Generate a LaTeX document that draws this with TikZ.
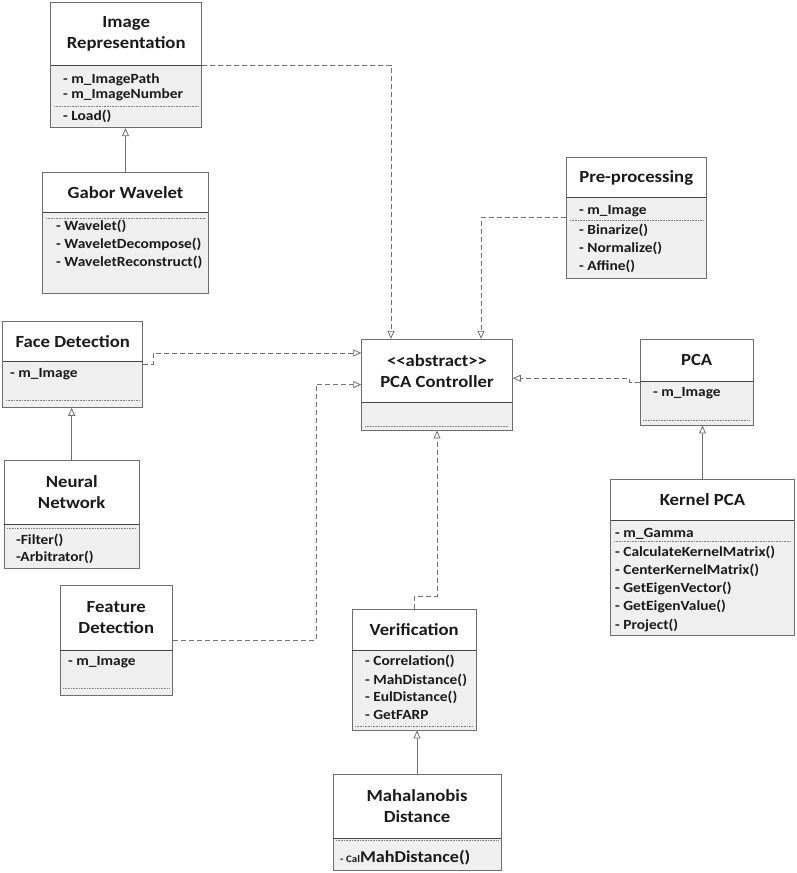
\documentclass[tikz,border=0pt]{standalone}
\usepackage{fontspec}
\setmainfont{Carlito}[FakeStretch=1.1]
\usetikzlibrary{arrows.meta,fit}
\definecolor{boxgray}{HTML}{6D6D6D}
\definecolor{hdrgray}{HTML}{444444}
\definecolor{attrgray}{HTML}{EFEFEF}
\definecolor{linegray}{HTML}{707070}
\definecolor{sepgray}{HTML}{808080}
\definecolor{txt}{HTML}{1A1A1A}
\newcommand\umlbox[6]{%
  \fill[attrgray] (#2,#6) rectangle (#4,#5);
  \node[frame, fit={(#2,#3) (#4,#5)}] (#1) {};
  \draw[hline] (#2,#6) -- (#4,#6);
}
\tikzset{
  frame/.style={draw=boxgray, line width=0.9pt, inner sep=0pt},
  hline/.style={draw=hdrgray, line width=1pt},
  sepline/.style={draw=sepgray, line width=0.6pt, densely dotted},
  ttl/.style={font=\bfseries\fontsize{17}{21}\selectfont, text=txt, align=center, inner sep=0pt},
  attr/.style={font=\bfseries\fontsize{14}{15}\selectfont, text=txt, anchor=base west, inner sep=0pt},
  dep/.style={draw=linegray, line width=0.8pt, dash pattern=on 5pt off 3pt, -{Triangle[length=8pt,width=7pt,fill=white]}},
  inh/.style={draw=linegray, line width=0.8pt, -{Triangle[length=8pt,width=7pt,fill=white]}},
}
\begin{document}
\begin{tikzpicture}[x=1pt,y=-1pt]
\useasboundingbox (0,0) rectangle (796,873);
% Image Representation
\umlbox{ir}{50.7}{2.7}{201.7}{127.7}{65}
\node[ttl] (irT) at (126.2,33.9) {Image\\Representation};
\node[attr] (ir1) at (63,83.4) {- m\_ImagePath};
\node[attr] (ir2) at (63,98.5) {- m\_ImageNumber};
\draw[sepline] (54,106.7) -- (199,106.7);
\node[attr] (ir3) at (63,120.7) {- Load()};
% Gabor Wavelet
\umlbox{gw}{42.7}{172.7}{208.3}{293.3}{212.7}
\node[ttl] (gwT) at (125.5,192.7) {Gabor Wavelet};
\draw[sepline] (46,218.3) -- (205,218.3);
\node[attr] (gw1) at (56,230.7) {- Wavelet()};
\node[attr] (gw2) at (56,248.4) {- WaveletDecompose()};
\node[attr] (gw3) at (56,266.7) {- WaveletReconstruct()};
% Pre-processing
\umlbox{pp}{566.7}{157.3}{706}{278.3}{197.7}
\node[ttl] (ppT) at (636.3,177.5) {Pre-processing};
\node[attr] (pp1) at (579,214.7) {- m\_Image};
\draw[sepline] (570,220) -- (703,220);
\node[attr] (pp2) at (579,234) {- Binarize()};
\node[attr] (pp3) at (579,252.4) {- Normalize()};
\node[attr] (pp4) at (579,270.7) {- Affine()};
% Face Detection
\umlbox{fd}{2.7}{321}{142.7}{407.3}{361.7}
\node[ttl] (fdT) at (72.7,341.3) {Face Detection};
\node[attr] (fd1) at (10,377.4) {- m\_Image};
\draw[sepline] (6,400.7) -- (140,400.7);
% PCA Controller
\umlbox{pc}{361.7}{339.3}{512.3}{430}{402.7}
\node[ttl] (pcT) at (437,371) {{<}{<}abstract{>}{>}\\PCA Controller};
\draw[sepline] (365,426) -- (509,426);
% PCA
\umlbox{pca}{640}{339.3}{753.3}{425}{381}
\node[ttl] (pcaT) at (696.7,360.2) {PCA};
\node[attr] (pca1) at (653,396.4) {- m\_Image};
\draw[sepline] (643,420) -- (750,420);
% Neural Network
\umlbox{nn}{4}{460.7}{139.3}{568.3}{524.3}
\node[ttl] (nnT) at (71.7,492.5) {Neural\\Network};
\draw[sepline] (7,528.7) -- (136,528.7);
\node[attr] (nn1) at (16,544.5) {-Filter()};
\node[attr] (nn2) at (16,561.5) {-Arbitrator()};
% Kernel PCA
\umlbox{kp}{610.7}{479}{794.3}{635}{520}
\node[ttl] (kpT) at (702.5,499.5) {Kernel PCA};
\node[attr] (kp1) at (615,537.4) {- m\_Gamma};
\draw[sepline] (614,541) -- (791,541);
\node[attr] (kp2) at (615,556.4) {- CalculateKernelMatrix()};
\node[attr] (kp3) at (615,574) {- CenterKernelMatrix()};
\node[attr] (kp4) at (615,592.4) {- GetEigenVector()};
\node[attr] (kp5) at (615,610.7) {- GetEigenValue()};
\node[attr] (kp6) at (615,629) {- Project()};
% Feature Detection
\umlbox{fe}{60}{585.7}{172.7}{695}{650}
\node[ttl] (feT) at (116.3,617.8) {Feature\\Detection};
\node[attr] (fe1) at (68,665.7) {- m\_Image};
\draw[sepline] (63,688) -- (170,688);
% Verification
\umlbox{ver}{352.3}{609}{476}{730}{650.7}
\node[ttl] (verT) at (414.2,629.8) {Verification};
\node[attr] (ver1) at (365,665.7) {- Correlation()};
\node[attr] (ver2) at (365,684) {- MahDistance()};
\node[attr] (ver3) at (365,701.4) {- EulDistance()};
\node[attr] (ver4) at (365,719) {- GetFARP};
\draw[sepline] (355,726) -- (473,726);
% Mahalanobis Distance
\umlbox{md}{333}{774}{501}{870}{838.3}
\node[ttl] (mdT) at (417,806) {Mahalanobis\\Distance};
\draw[sepline] (336,840.7) -- (498,840.7);
\node[attr] (md1) at (340,862) {{\fontsize{10}{11}\selectfont - Cal}{\fontsize{16.5}{18}\selectfont MahDistance()}};
% Connectors
\draw[dep] (ir.east) -| ([xshift=-46pt]pc.north);
\draw[dep] (pp.west) -| ([xshift=44pt]pc.north);
\draw[dep] (fd.east) -- ++(10,0) |- ([yshift=31.7pt]pc.west);
\draw[dep] (fe.east) -| ([xshift=-45pt]pc.west) -- (pc.west);
\draw[dep] (pca.west) -- ++(-10,0) |- ([yshift=6.4pt]pc.east);
\draw[dep] (ver.north) -- ++(0,-12) -| (pc.south);
\draw[inh] (gw.north) -- (gw.north |- ir.south);
\draw[inh] (nn.north) -- (nn.north |- fd.south);
\draw[inh] (kp.north) -- (kp.north |- pca.south);
\draw[inh] (md.north) -- (md.north |- ver.south);
\end{tikzpicture}
\end{document}
